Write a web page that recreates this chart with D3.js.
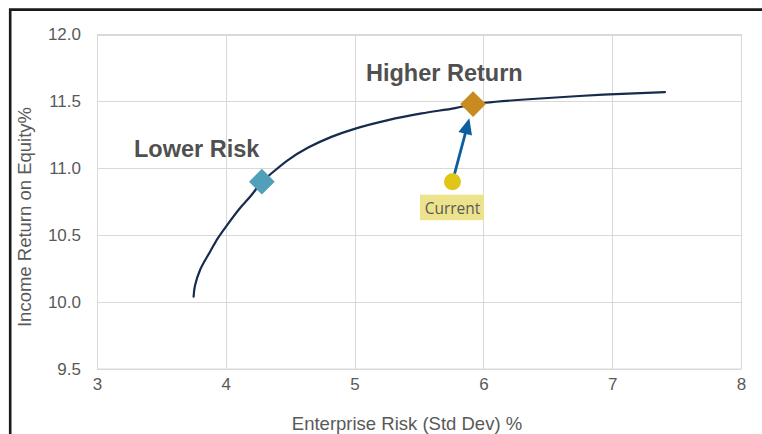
<!DOCTYPE html>
<html>
<head>
<meta charset="utf-8">
<script src="https://cdn.jsdelivr.net/npm/d3@7"></script>
<style>
  html, body { margin: 0; padding: 0; background: #ffffff; }
  svg { display: block; }
</style>
</head>
<body>
<svg id="chart" width="762" height="434"></svg>
<script>
// Efficient frontier: enterprise risk (std dev %) vs income return on equity (%)
const frontierRisk = [3.75, 3.76, 3.80, 3.88, 3.94, 4.01, 4.10, 4.20, 4.28, 4.34, 4.48, 4.64, 4.82, 5.00, 5.26, 5.52, 5.78, 5.92, 6.01, 6.41, 6.93, 7.41];
const frontierReturn = [10.04, 10.12, 10.24, 10.38, 10.48, 10.575, 10.69, 10.80, 10.90, 10.95, 11.06, 11.155, 11.235, 11.295, 11.36, 11.41, 11.45, 11.48, 11.49, 11.52, 11.55, 11.57];

// Highlighted portfolios
const pointNames = ["Lower Risk", "Higher Return", "Current"];
const pointRisk = [4.28, 5.92, 5.76];
const pointReturn = [10.90, 11.48, 10.90];

// Axis ticks
const xTicks = [3, 4, 5, 6, 7, 8];
const yTicks = [9.5, 10.0, 10.5, 11.0, 11.5, 12.0];
const xTitle = "Enterprise Risk (Std Dev) %";
const yTitle = "Income Return on Equity%";

const svg = d3.select("#chart");
const plot = { left: 97, right: 741, top: 34.5, bottom: 369 };

const x = d3.scaleLinear().domain([3, 8]).range([plot.left, plot.right]);
const y = d3.scaleLinear().domain([9.5, 12.0]).range([plot.bottom, plot.top]);

const font = "'Liberation Sans', Arial, sans-serif";
const grey = "#595959";
const gridColor = "#d9d9d9";

// Outer frame (only top and left edges fall inside the view)
svg.append("path")
  .attr("d", "M10.2,440 L10.2,9.6 L770,9.6")
  .attr("fill", "none")
  .attr("stroke", "#1a1a1a")
  .attr("stroke-width", 2.6);

// Gridlines
const grid = svg.append("g");
grid.selectAll("line.v").data(xTicks).join("line")
  .attr("class", "v")
  .attr("x1", d => Math.round(x(d)) + 0.5).attr("x2", d => Math.round(x(d)) + 0.5)
  .attr("y1", plot.top).attr("y2", plot.bottom)
  .attr("stroke", gridColor).attr("stroke-width", 1);
grid.selectAll("line.h").data(yTicks).join("line")
  .attr("class", "h")
  .attr("x1", plot.left).attr("x2", plot.right)
  .attr("y1", d => Math.round(y(d)) + 0.5).attr("y2", d => Math.round(y(d)) + 0.5)
  .attr("stroke", gridColor).attr("stroke-width", 1);

// Axes (labels only)
const xAxis = svg.append("g")
  .attr("transform", `translate(0,${plot.bottom})`)
  .call(d3.axisBottom(x).tickValues(xTicks).tickFormat(d3.format("d")).tickSize(0).tickPadding(9));
const yAxis = svg.append("g")
  .attr("transform", `translate(${plot.left},0)`)
  .call(d3.axisLeft(y).tickValues(yTicks).tickFormat(d3.format(".1f")).tickSize(0).tickPadding(16));
[xAxis, yAxis].forEach(g => {
  g.select(".domain").remove();
  g.selectAll("text")
    .attr("fill", grey)
    .style("font-family", font)
    .style("font-size", "17px");
});

// Axis titles
svg.append("text")
  .attr("x", 407).attr("y", 429.5)
  .attr("text-anchor", "middle")
  .attr("fill", grey)
  .style("font-family", font).style("font-size", "18.5px")
  .text(xTitle);
svg.append("text")
  .attr("transform", "translate(31,217) rotate(-90)")
  .attr("text-anchor", "middle")
  .attr("fill", grey)
  .style("font-family", font).style("font-size", "18.5px")
  .text(yTitle);

// Frontier curve
const frontier = frontierRisk.map((r, i) => [r, frontierReturn[i]]);
svg.append("path")
  .datum(frontier)
  .attr("fill", "none")
  .attr("stroke", "#172b4d")
  .attr("stroke-width", 2.2)
  .attr("stroke-linecap", "round")
  .attr("d", d3.line().x(d => x(d[0])).y(d => y(d[1])).curve(d3.curveCatmullRom.alpha(0.5)));

// Arrow from current portfolio toward the higher-return portfolio
const cx = x(pointRisk[2]), cy = y(pointReturn[2]);
const hx = x(pointRisk[1]), hy = y(pointReturn[1]);
const dx = hx - cx, dy = hy - cy;
const len = Math.hypot(dx, dy);
const ux = dx / len, uy = dy / len;
const startT = 0.1 * len, tipT = 0.816 * len, headLen = 16, headHalf = 7;
const sx = cx + ux * startT, sy = cy + uy * startT;
const tx = cx + ux * tipT, ty = cy + uy * tipT;
const bx = tx - ux * headLen, by = ty - uy * headLen;
svg.append("line")
  .attr("x1", sx).attr("y1", sy).attr("x2", bx + ux * 2).attr("y2", by + uy * 2)
  .attr("stroke", "#0b5ea0").attr("stroke-width", 2.8);
svg.append("path")
  .attr("d", `M${tx},${ty} L${bx - uy * headHalf},${by + ux * headHalf} L${bx + uy * headHalf},${by - ux * headHalf} Z`)
  .attr("fill", "#0b5ea0");

// Diamond markers
const diamond = d3.symbol().type(d3.symbolSquare).size(330);
const markerColors = ["#519fba", "#c98a1f"];
[0, 1].forEach(i => {
  svg.append("path")
    .attr("d", diamond())
    .attr("transform", `translate(${x(pointRisk[i])},${y(pointReturn[i])}) rotate(45)`)
    .attr("fill", markerColors[i]);
});

// Current portfolio marker
svg.append("circle")
  .attr("cx", cx).attr("cy", cy).attr("r", 8.5)
  .attr("fill", "#dfc617");

// Current label with highlight box
svg.append("rect")
  .attr("x", cx - 32.5).attr("y", cy + 13)
  .attr("width", 64).attr("height", 25.5)
  .attr("fill", "#ede38c");
svg.append("text")
  .attr("x", cx).attr("y", cy + 32)
  .attr("text-anchor", "middle")
  .attr("fill", grey)
  .style("font-family", "'Open Sans', sans-serif").style("font-size", "15.5px")
  .text(pointNames[2]);

// Bold annotations
svg.append("text")
  .attr("x", 134).attr("y", 157)
  .attr("fill", "#505050")
  .style("font-family", font).style("font-size", "23.5px").style("font-weight", "bold")
  .text(pointNames[0]);
svg.append("text")
  .attr("x", 366).attr("y", 81)
  .attr("fill", "#505050")
  .style("font-family", font).style("font-size", "23.5px").style("font-weight", "bold")
  .text(pointNames[1]);

// Plot-area border on top of grid
svg.append("rect")
  .attr("x", plot.left + 0.5).attr("y", plot.top)
  .attr("width", plot.right - plot.left).attr("height", plot.bottom - plot.top)
  .attr("fill", "none").attr("stroke", gridColor).attr("stroke-width", 1);
</script>
</body>
</html>
